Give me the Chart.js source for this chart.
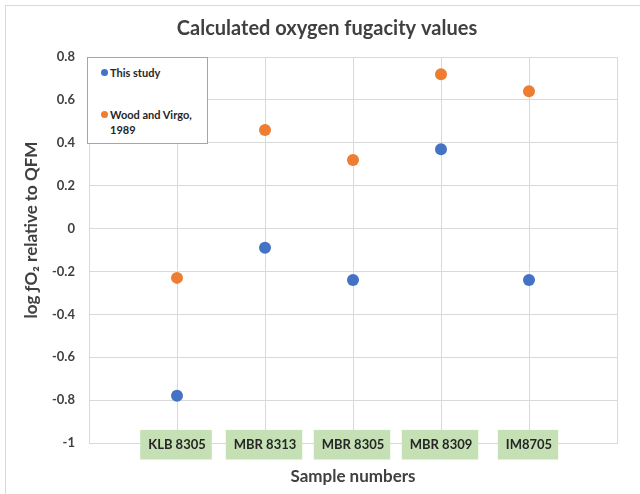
<!DOCTYPE html>
<html><head><meta charset="utf-8">
<script src="https://cdn.jsdelivr.net/npm/chart.js@4/dist/chart.umd.min.js"></script>
<style>
html,body{margin:0;padding:0;background:#fff;}
#wrap{position:relative;width:640px;height:494px;overflow:hidden;}
#frame{position:absolute;left:5px;top:5px;width:700px;height:600px;border:1px solid #d9d9d9;box-sizing:border-box;}
#c{position:absolute;left:0;top:0;}
#legend{position:absolute;left:87px;top:57px;width:121px;height:87px;border:1.5px solid #a6a6a6;background:#fff;box-sizing:border-box;font-family:Lato,sans-serif;font-weight:bold;font-size:11px;color:#262626;}
.item{position:absolute;left:22px;line-height:15px;}
.dot{position:absolute;left:-9px;top:4px;width:7px;height:7px;border-radius:50%;}
</style></head>
<body>
<div id="wrap">
<div id="frame"></div>
<canvas id="c" width="640" height="494"></canvas>
<div id="legend"></div>
</div>
<script>
const categories = ['KLB 8305', 'MBR 8313', 'MBR 8305', 'MBR 8309', 'IM8705'];
const seriesNames = ['This study', 'Wood and Virgo,\n1989'];
const thisStudy = [-0.78, -0.09, -0.24, 0.37, -0.24];
const woodVirgo = [-0.23, 0.46, 0.32, 0.72, 0.64];
const seriesColors = ['#4472C4', '#ED7D31'];
const chartTitle = 'Calculated oxygen fugacity values';
const xTitle = 'Sample numbers';
const yTitle = 'log ƒO₂ relative to QFM';

const FONT = 'Lato, sans-serif';
const TXT = '#404040';

const toPts = arr => arr.map((v, i) => ({x: i + 1, y: v}));

const yTitlePlugin = {
  id: 'yTitle',
  afterDraw(chart) {
    const ctx = chart.ctx;
    ctx.save();
    ctx.translate(32, 230);
    ctx.rotate(-Math.PI / 2);
    ctx.font = 'bold 17px ' + FONT;
    ctx.fillStyle = TXT;
    ctx.textAlign = 'center';
    ctx.textBaseline = 'middle';
    ctx.fillText(yTitle, 0, 0);
    ctx.restore();
  }
};

new Chart(document.getElementById('c'), {
  type: 'scatter',
  data: {
    datasets: [
      {label: seriesNames[0], data: toPts(thisStudy), backgroundColor: seriesColors[0], borderWidth: 0, pointRadius: 6, pointHoverRadius: 6},
      {label: seriesNames[1], data: toPts(woodVirgo), backgroundColor: seriesColors[1], borderWidth: 0, pointRadius: 6, pointHoverRadius: 6}
    ]
  },
  options: {
    responsive: false,
    animation: false,
    layout: {padding: {left: 37, right: 23, top: 0, bottom: 0}},
    plugins: {
      legend: {display: false},
      tooltip: {enabled: false},
      title: {display: true, text: chartTitle, color: TXT, font: {family: FONT, size: 20, weight: 'bold'}, padding: {top: 17, bottom: 16}}
    },
    scales: {
      x: {
        type: 'linear', min: 0, max: categories.length + 1,
        afterBuildTicks: s => { s.ticks = []; for (let i = 0; i <= categories.length + 1; i++) s.ticks.push({value: i}); },
        afterFit: s => { s.height = 51; },
        grid: {color: '#d9d9d9', drawTicks: false},
        border: {color: '#d9d9d9'},
        ticks: {
          autoSkip: false, maxRotation: 0, mirror: true, padding: -9.5,
          callback: v => categories[v - 1] || '',
          color: '#262626', font: {family: FONT, size: 13, weight: 'bold'},
          showLabelBackdrop: true,
          backdropColor: c => (c.index > 0 && c.index <= categories.length) ? '#c5e0b4' : 'rgba(0,0,0,0)',
          backdropPadding: {top: 7, bottom: 7, left: 8, right: 6}
        },
        title: {display: true, text: xTitle, color: TXT, font: {family: FONT, size: 17, weight: 'bold'}, padding: {top: 0, bottom: 7}}
      },
      y: {
        min: -1, max: 0.8,
        afterBuildTicks: s => { s.ticks = []; for (let i = 0; i <= 9; i++) s.ticks.push({value: Math.round((-1 + i * 0.2) * 10) / 10}); },
        afterFit: s => { s.width = 52; },
        grid: {color: '#d9d9d9', drawTicks: false},
        border: {color: '#d9d9d9'},
        ticks: {padding: 14, color: TXT, font: {family: FONT, size: 13, weight: 'bold'}, callback: v => String(Math.round(v * 10) / 10)}
      }
    }
  },
  plugins: [yTitlePlugin]
});

// legend
const lg = document.getElementById('legend');
const tops = [7, 49];
seriesNames.forEach((name, i) => {
  const d = document.createElement('div');
  d.className = 'item';
  d.style.top = tops[i] + 'px';
  d.innerHTML = '<span class="dot" style="background:' + seriesColors[i] + '"></span>' + name.replace('\n', '<br>');
  lg.appendChild(d);
});
</script>
</body></html>
